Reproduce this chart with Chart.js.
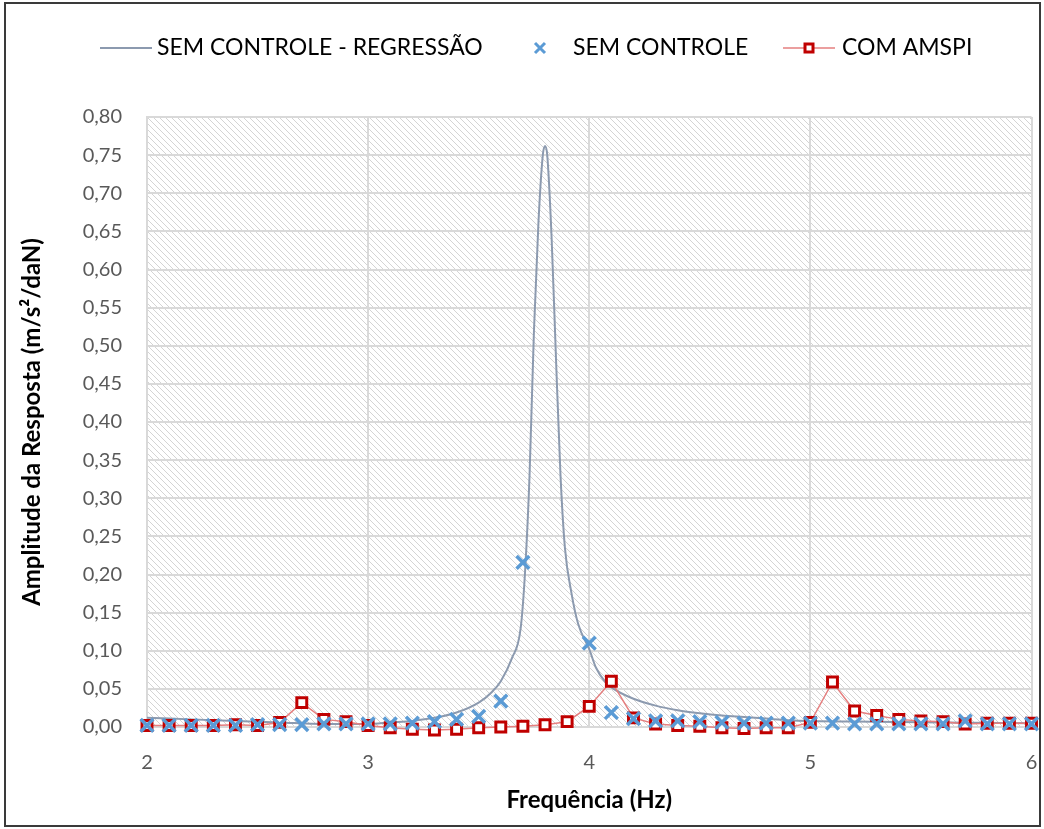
<!DOCTYPE html>
<html>

<head>
    <meta charset="utf-8">
    <title>Amplitude da Resposta</title>
    <script src="https://cdn.jsdelivr.net/npm/chart.js@4"></script>
    <style>
        html,
        body {
            margin: 0;
            padding: 0;
            background: #ffffff;
        }

        .chart-box {
            position: relative;
            width: 1044px;
            height: 829px;
        }

        .chart-box::after {
            content: '';
            position: absolute;
            left: 4px;
            top: 2px;
            right: 3px;
            bottom: 2px;
            border: 2px solid #3a3a3a;
            pointer-events: none;
        }
    </style>
</head>

<body>
    <div class="chart-box">
        <canvas id="respChart"></canvas>
    </div>

    <script>
        // frequencias ensaiadas (Hz)
        var freq = [2.0, 2.1, 2.2, 2.3, 2.4, 2.5, 2.6, 2.7, 2.8, 2.9,
            3.0, 3.1, 3.2, 3.3, 3.4, 3.5, 3.6, 3.7, 3.8, 3.9,
            4.0, 4.1, 4.2, 4.3, 4.4, 4.5, 4.6, 4.7, 4.8, 4.9,
            5.0, 5.1, 5.2, 5.3, 5.4, 5.5, 5.6, 5.7, 5.8, 5.9, 6.0];

        // amplitude sem controle (m/s²/daN)
        var semControle = [0.002, 0.002, 0.002, 0.002, 0.002, 0.003, 0.003, 0.003, 0.004, 0.004,
            0.004, 0.004, 0.005, 0.007, 0.010, 0.014, 0.034, 0.216, null, null,
            0.110, 0.019, 0.011, 0.008, 0.008, 0.007, 0.006, 0.005, 0.005, 0.005,
            0.005, 0.005, 0.004, 0.004, 0.004, 0.004, 0.004, 0.008, 0.004, 0.004, 0.004];

        // amplitude com AMSPI
        var comAmspi = [0.002, 0.002, 0.002, 0.002, 0.003, 0.002, 0.006, 0.032, 0.010, 0.007,
            0.002, -0.001, -0.003, -0.004, -0.003, -0.001, 0.000, 0.001, 0.003, 0.007,
            0.027, 0.060, 0.012, 0.004, 0.002, 0.001, -0.001, -0.002, -0.001, -0.001,
            0.006, 0.059, 0.021, 0.015, 0.010, 0.008, 0.007, 0.004, 0.005, 0.005, 0.005];

        // curva de regressao sem controle
        var regFreq = [2.0, 2.2, 2.4, 2.6, 2.8, 3.0, 3.1, 3.2, 3.3, 3.4,
            3.5, 3.56, 3.6, 3.65, 3.69, 3.71, 3.73, 3.75, 3.77, 3.79,
            3.80, 3.81, 3.83, 3.85, 3.87, 3.89, 3.92, 3.95, 4.0, 4.03,
            4.07, 4.1, 4.2, 4.3, 4.4, 4.5, 4.6, 4.7, 4.8, 4.9,
            5.0, 5.3, 5.6, 6.0];
        var regAmp = [0.012, 0.010, 0.008, 0.006, 0.004, 0.004, 0.006, 0.008, 0.012, 0.019,
            0.032, 0.046, 0.060, 0.090, 0.130, 0.205, 0.33, 0.52, 0.66, 0.75,
            0.762, 0.75, 0.64, 0.48, 0.33, 0.235, 0.175, 0.135, 0.102, 0.078,
            0.060, 0.052, 0.037, 0.028, 0.022, 0.018, 0.015, 0.013, 0.011, 0.009,
            0.008, 0.007, 0.006, 0.005];

        var FONT = 'Lato, "Open Sans", sans-serif';

        function comma(v) {
            return v.toFixed(2).replace('.', ',');
        }

        // fundo hachurado da area de plotagem
        var hatchBg = {
            id: 'hatchBg',
            beforeDraw: function (chart) {
                var a = chart.chartArea;
                var tile = document.createElement('canvas');
                tile.width = 6;
                tile.height = 6;
                var g = tile.getContext('2d');
                g.fillStyle = '#ffffff';
                g.fillRect(0, 0, 6, 6);
                g.fillStyle = '#d4d4d4';
                for (var i = 0; i < 6; i++) {
                    for (var j = 0; j < 6; j++) {
                        var d = ((i - j) % 6 + 6) % 6;
                        if (d === 0 || (d === 1 && (i + j) % 2 === 0)) g.fillRect(i, j, 1, 1);
                    }
                }
                var ctx = chart.ctx;
                ctx.save();
                ctx.fillStyle = ctx.createPattern(tile, 'repeat');
                ctx.fillRect(a.left, a.top, a.right - a.left, a.bottom - a.top);
                ctx.restore();
            }
        };

        // legenda no topo
        var topLegend = {
            id: 'topLegend',
            afterDraw: function (chart) {
                var ctx = chart.ctx;
                var ds = chart.data.datasets;
                var y = 48;
                ctx.save();
                ctx.font = '23px ' + FONT;
                ctx.fillStyle = '#000000';
                ctx.textBaseline = 'middle';

                // regressao: so linha
                ctx.strokeStyle = ds[0].borderColor;
                ctx.lineWidth = 2;
                ctx.beginPath();
                ctx.moveTo(100, y);
                ctx.lineTo(152, y);
                ctx.stroke();
                ctx.fillText(ds[0].label, 157, y);

                // sem controle: so marcador
                ctx.strokeStyle = ds[1].pointBorderColor;
                ctx.lineWidth = 3;
                ctx.beginPath();
                ctx.moveTo(535, y - 5);
                ctx.lineTo(545, y + 5);
                ctx.moveTo(545, y - 5);
                ctx.lineTo(535, y + 5);
                ctx.stroke();
                ctx.fillText(ds[1].label, 573, y);

                // com amspi: linha + quadrado
                ctx.strokeStyle = ds[2].borderColor;
                ctx.lineWidth = 1.5;
                ctx.beginPath();
                ctx.moveTo(783, y);
                ctx.lineTo(835, y);
                ctx.stroke();
                ctx.fillStyle = '#ffffff';
                ctx.strokeStyle = ds[2].pointBorderColor;
                ctx.lineWidth = 3;
                ctx.fillRect(805, y - 4, 8, 8);
                ctx.strokeRect(805, y - 4, 8, 8);
                ctx.fillStyle = '#000000';
                ctx.fillText(ds[2].label, 842, y);
                ctx.restore();
            }
        };

        var ctx = document.getElementById('respChart').getContext('2d');
        var respChart = new Chart(ctx, {
            type: 'line',
            data: {
                datasets: [{
                    label: 'SEM CONTROLE - REGRESSÃO',
                    data: regFreq.map(function (f, i) { return { x: f, y: regAmp[i] }; }),
                    borderColor: '#8C9AAF',
                    borderWidth: 2,
                    pointRadius: 0,
                    cubicInterpolationMode: 'monotone',
                    order: 3
                }, {
                    label: 'SEM CONTROLE',
                    data: freq.map(function (f, i) { return { x: f, y: semControle[i] }; }),
                    showLine: false,
                    pointStyle: 'crossRot',
                    pointRadius: 9,
                    pointBorderWidth: 3.5,
                    pointBorderColor: '#5B9BD5',
                    borderColor: '#5B9BD5',
                    clip: false,
                    order: 1
                }, {
                    label: 'COM AMSPI',
                    data: freq.map(function (f, i) { return { x: f, y: comAmspi[i] }; }),
                    borderColor: '#E57F7F',
                    borderWidth: 1.5,
                    pointStyle: 'rect',
                    pointRadius: 7,
                    pointBorderWidth: 3,
                    pointBorderColor: '#C00000',
                    pointBackgroundColor: '#ffffff',
                    clip: false,
                    order: 2
                }]
            },
            options: {
                responsive: true,
                maintainAspectRatio: false,
                animation: false,
                layout: {
                    padding: { left: 5, right: 10, top: 117, bottom: 10 }
                },
                plugins: {
                    legend: { display: false },
                    tooltip: { enabled: false }
                },
                scales: {
                    x: {
                        type: 'linear',
                        min: 2,
                        max: 6,
                        afterFit: function (s) {
                            s.height = 92;
                            s.paddingLeft = 0;
                            s.paddingRight = 0;
                        },
                        ticks: {
                            stepSize: 1,
                            padding: 24,
                            color: '#595959',
                            font: { family: FONT, size: 20 }
                        },
                        grid: { color: '#d9d9d9', lineWidth: 2, drawTicks: false },
                        border: { color: '#d9d9d9', width: 2 },
                        title: {
                            display: true,
                            text: 'Frequência (Hz)',
                            color: '#000000',
                            font: { family: FONT, size: 24, weight: 'bold' },
                            padding: { top: 0, bottom: 4 }
                        }
                    },
                    y: {
                        min: 0,
                        max: 0.8,
                        afterFit: function (s) { s.width = 142; },
                        ticks: {
                            stepSize: 0.05,
                            padding: 25,
                            color: '#595959',
                            font: { family: FONT, size: 20 },
                            callback: function (v) { return comma(v); }
                        },
                        grid: { color: '#d9d9d9', lineWidth: 2, drawTicks: false },
                        border: { color: '#d9d9d9', width: 2 },
                        title: {
                            display: true,
                            text: 'Amplitude da Resposta (m/s²/daN)',
                            color: '#000000',
                            font: { family: FONT, size: 24, weight: 'bold' },
                            padding: { top: 13, bottom: 0 }
                        }
                    }
                }
            },
            plugins: [hatchBg, topLegend]
        });
    </script>
</body>

</html>
